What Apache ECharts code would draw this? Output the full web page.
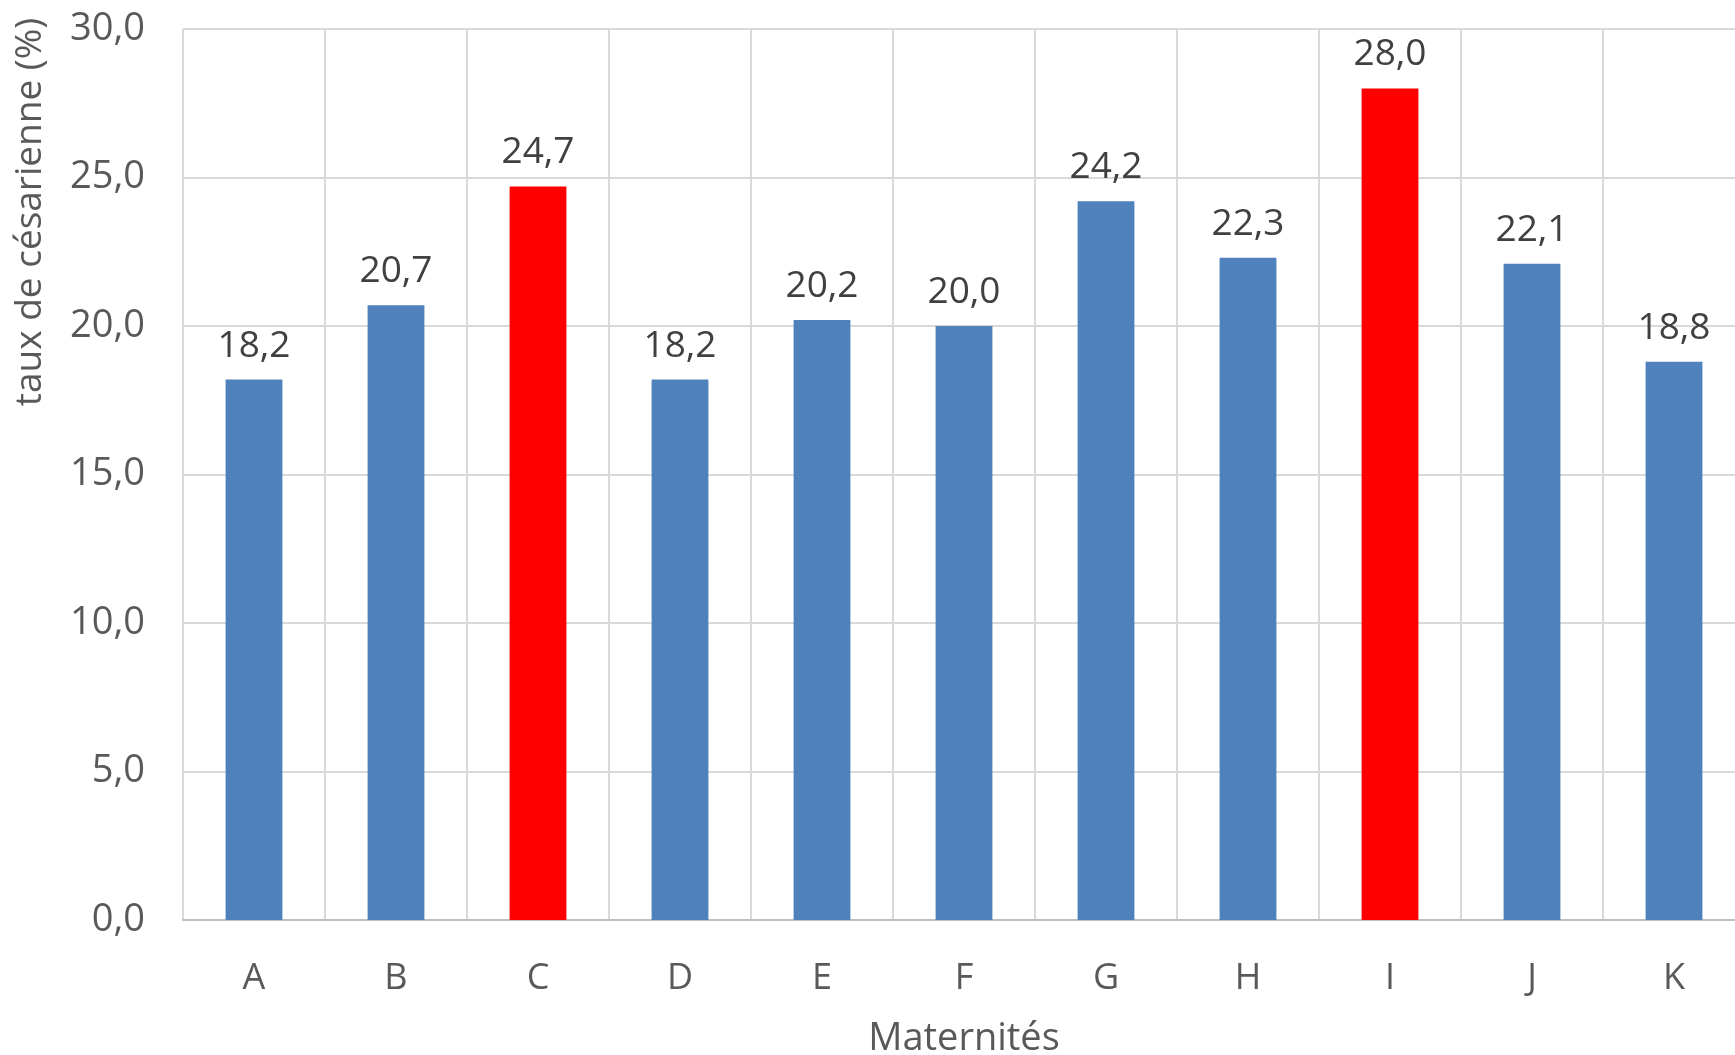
<!DOCTYPE html>
<html>
<head>
<meta charset="utf-8">
<title>Taux de césarienne par maternité</title>
<script src="https://cdn.jsdelivr.net/npm/echarts@6/dist/echarts.min.js"></script>
<style>
  html, body { margin: 0; padding: 0; background: #ffffff; overflow: hidden; }
  /* the plot area runs slightly past the right edge of the window */
  #chart { width: 1745px; height: 1055px; }
</style>
</head>
<body>
<div id="chart"></div>
<script>
// Maternités et taux de césarienne (%)
const maternites = ['A', 'B', 'C', 'D', 'E', 'F', 'G', 'H', 'I', 'J', 'K'];
const tauxCesarienne = [18.2, 20.7, 24.7, 18.2, 20.2, 20.0, 24.2, 22.3, 28.0, 22.1, 18.8];
// Maternités mises en évidence en rouge
const surlignees = ['C', 'I'];

const FONT = '"Open Sans", "Noto Sans", sans-serif';
const BLEU = '#4F81BD';
const ROUGE = '#FF0000';
const fmt = v => Number(v).toFixed(1).replace('.', ',');

const chart = echarts.init(document.getElementById('chart'), null, { renderer: 'canvas' });

chart.setOption({
  backgroundColor: '#ffffff',
  animation: false,
  textStyle: { fontFamily: FONT },
  grid: { left: 183, top: 29, right: 0, height: 891, outerBoundsMode: 'none' },
  xAxis: {
    type: 'category',
    data: maternites,
    name: 'Maternités',
    nameLocation: 'middle',
    nameGap: 100,
    nameTextStyle: { fontFamily: FONT, fontSize: 38, color: '#595959' },
    axisLine: { show: true, lineStyle: { color: '#bfbfbf', width: 2 } },
    axisTick: { show: false },
    axisLabel: { fontFamily: FONT, fontSize: 36, color: '#595959', margin: 41 },
    splitLine: { show: true, lineStyle: { color: '#d9d9d9', width: 2 } }
  },
  yAxis: {
    type: 'value',
    min: 0,
    max: 30,
    interval: 5,
    axisLine: { show: false },
    axisTick: { show: false },
    axisLabel: {
      fontFamily: FONT, fontSize: 38, color: '#595959', margin: 38,
      formatter: v => fmt(v)
    },
    splitLine: { show: true, lineStyle: { color: '#d9d9d9', width: 2 } }
  },
  graphic: [{
    type: 'text',
    x: 30,
    y: 212,
    rotation: Math.PI / 2,
    style: {
      text: 'taux de césarienne (%)',
      fontFamily: FONT,
      fontSize: 37,
      fill: '#595959',
      textAlign: 'center',
      textVerticalAlign: 'middle'
    }
  }],
  series: [{
    type: 'bar',
    barWidth: '40%',
    data: tauxCesarienne.map((v, i) => ({
      value: v,
      itemStyle: { color: surlignees.includes(maternites[i]) ? ROUGE : BLEU }
    })),
    label: {
      show: true,
      position: 'top',
      distance: 15,
      fontFamily: FONT,
      fontSize: 37,
      color: '#404040',
      formatter: p => fmt(p.value)
    }
  }]
});
</script>
</body>
</html>
